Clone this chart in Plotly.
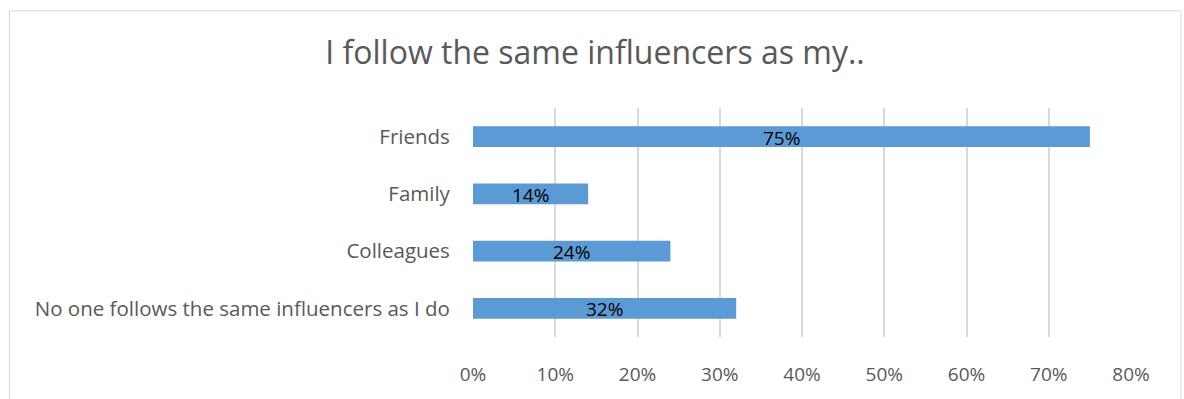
import plotly.graph_objects as go

# Survey responses (share of respondents)
categories = ["No one follows the same influencers as I do", "Colleagues", "Family", "Friends"]
shares = [0.32, 0.24, 0.14, 0.75]
labels = ["32%", "24%", "14%", "75%"]
tick_vals = [0, 0.1, 0.2, 0.3, 0.4, 0.5, 0.6, 0.7, 0.8]
tick_text = ["0%", "10%", "20%", "30%", "40%", "50%", "60%", "70%", "80%"]

FONT = "Open Sans, Carlito, Calibri, sans-serif"
GREY_TEXT = "#595959"
GRID = "#D9D9D9"

fig = go.Figure()

fig.add_trace(
    go.Bar(
        x=shares,
        y=categories,
        orientation="h",
        marker=dict(color="#5B9BD5", line=dict(width=0)),
        width=0.36,
        hoverinfo="skip",
    )
)

# Value labels centred on each bar
for cat, val, lab in zip(categories, shares, labels):
    fig.add_annotation(
        x=val / 2,
        y=cat,
        xref="x",
        yref="y",
        text=lab,
        showarrow=False,
        xanchor="center",
        yanchor="middle",
        yshift=-1,
        font=dict(family=FONT, size=19, color="#000000"),
    )

fig.update_layout(
    width=1184,
    height=399,
    margin=dict(l=473, r=53, t=108, b=59),
    paper_bgcolor="white",
    plot_bgcolor="white",
    showlegend=False,
    title=dict(
        text="I follow the same influencers as my..",
        x=595 / 1184,
        xanchor="center",
        y=1 - 53 / 399,
        yanchor="middle",
        font=dict(family=FONT, size=32, color=GREY_TEXT),
    ),
    xaxis=dict(
        range=[0, 0.8],
        tickvals=tick_vals,
        ticktext=tick_text,
        showgrid=True,
        gridcolor=GRID,
        gridwidth=1.5,
        zeroline=False,
        showline=False,
        ticks="outside",
        ticklen=20,
        tickcolor="rgba(0,0,0,0)",
        tickfont=dict(family=FONT, size=19, color=GREY_TEXT),
        fixedrange=True,
    ),
    yaxis=dict(
        categoryorder="array",
        categoryarray=categories,
        showgrid=False,
        zeroline=False,
        showline=False,
        ticks="outside",
        ticklen=18,
        tickcolor="rgba(0,0,0,0)",
        tickfont=dict(family=FONT, size=20.5, color=GREY_TEXT),
        fixedrange=True,
    ),
    shapes=[
        dict(
            type="rect",
            xref="paper",
            yref="paper",
            x0=(9.5 - 473) / 658,
            x1=(1181 - 473) / 658,
            y0=(340 - 420) / 232,
            y1=(340 - 9.5) / 232,
            line=dict(color=GRID, width=1),
            fillcolor="rgba(0,0,0,0)",
            layer="below",
        )
    ],
)

fig.write_html("out.html")
